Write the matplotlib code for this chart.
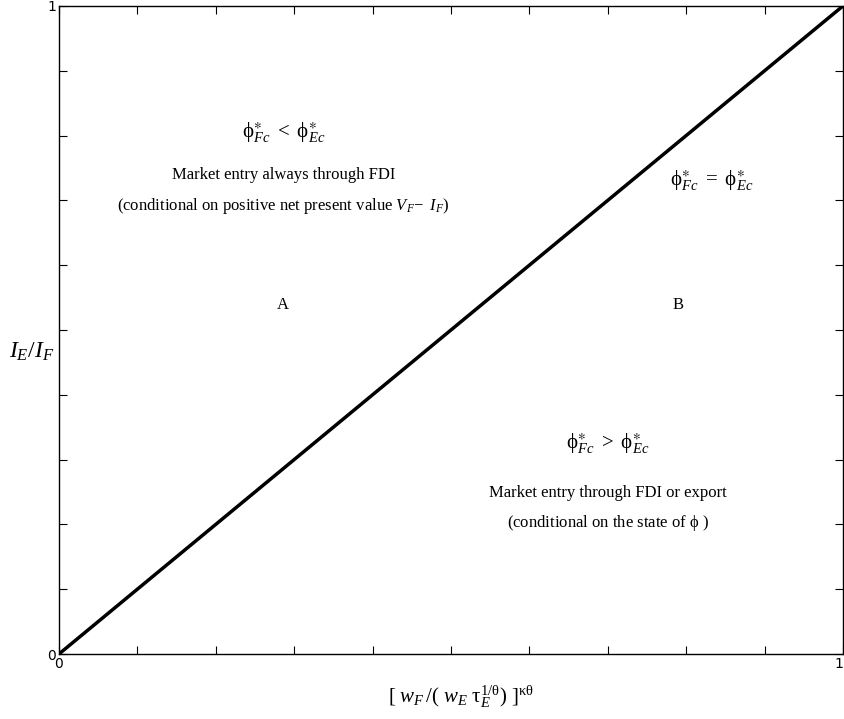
import numpy as np
import matplotlib
matplotlib.use("Agg")
from matplotlib import pyplot as plt

plt.rcParams['font.family'] = ['Liberation Serif', 'DejaVu Serif']
plt.rcParams['mathtext.fontset'] = 'custom'
plt.rcParams['mathtext.rm'] = 'Liberation Serif'
plt.rcParams['mathtext.it'] = 'Liberation Serif:italic'
plt.rcParams['mathtext.bf'] = 'Liberation Serif:bold'
plt.rcParams['mathtext.fallback'] = 'stix'

## the 45 degree line separating region A and region B
line_x = [0.0, 1.0]
line_y = [0.0, 1.0]

tick_pos = np.arange(0, 11) / 10.0
tick_labels = ['0'] + [''] * 9 + ['1']

PHI = r'\mathrm{ϕ}'

## annotation texts with (x, y) in data units and font size
notes = [
    (0.286, 0.806, r'$%s^{\ast}_{Fc}\ \mathrm{<}\ %s^{\ast}_{Ec}$' % (PHI, PHI), 15),
    (0.286, 0.739, 'Market entry always through FDI', 12),
    (0.286, 0.692, r'(conditional on positive net present value $V_F\!-\ I_F$)', 12),
    (0.286, 0.539, 'A', 12),
    (0.790, 0.539, 'B', 12),
    (0.833, 0.731, r'$%s^{\ast}_{Fc}\ \mathrm{=}\ %s^{\ast}_{Ec}$' % (PHI, PHI), 15),
    (0.700, 0.326, r'$%s^{\ast}_{Fc}\ \mathrm{>}\ %s^{\ast}_{Ec}$' % (PHI, PHI), 15),
    (0.700, 0.248, 'Market entry through FDI or export', 12),
    (0.700, 0.202, r'(conditional on the state of $%s$ )' % PHI, 12),
]

fig = plt.figure(figsize=(8.45, 7.19), dpi=100)
ax = fig.add_axes([0.0698, 0.0904, 0.9278, 0.9013])

ax.plot(line_x, line_y, color='black', lw=2.5, solid_capstyle='butt')

for x, y, s, fs in notes:
    ax.text(x, y, s, ha='center', va='center', fontsize=fs)

ax.set_xlim(0, 1)
ax.set_ylim(0, 1)
ax.set_xticks(tick_pos)
ax.set_yticks(tick_pos)
ax.set_xticklabels(tick_labels, family='DejaVu Sans', fontsize=10)
ax.set_yticklabels(tick_labels, family='DejaVu Sans', fontsize=10)
ax.get_xticklabels()[-1].set_horizontalalignment('right')
ax.tick_params(direction='in', length=6, width=0.8, top=True, right=True, pad=2)
for sp in ax.spines.values():
    sp.set_linewidth(1.0)

ax.set_xlabel(r'$[\ w_F\,/(\ w_E\ \mathrm{τ}_E^{1/\mathrm{θ}})\ ]^{\mathrm{κθ}}$', fontsize=15)
ax.xaxis.set_label_coords(0.513, -0.045)
ax.set_ylabel(r'$I_E/I_F$', fontsize=17, rotation=0, va='center')
ax.yaxis.set_label_coords(-0.035, 0.466)

fig.savefig('out.png', dpi=100)
